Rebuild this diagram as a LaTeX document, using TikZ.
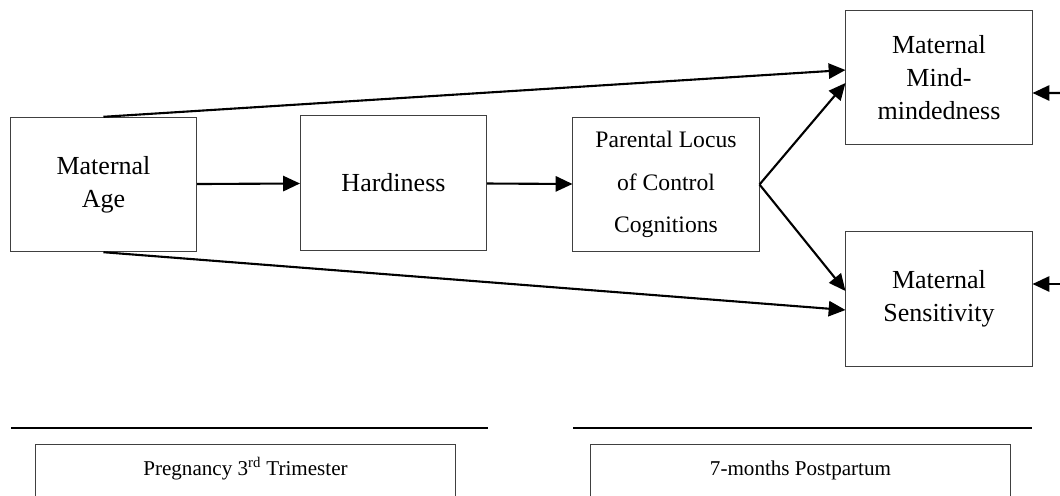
\documentclass[tikz,border=0pt]{standalone}
\usepackage{fontspec}
\setmainfont{Liberation Serif}
\usepackage{tikz}
\usetikzlibrary{arrows.meta, calc, positioning}

\begin{document}
\begin{tikzpicture}[
    x=0.025cm, y=-0.025cm,
    varbox/.style={draw=black!75, line width=0.7pt, minimum width=4.65cm, minimum height=3.36cm, align=center, font=\fontsize{18.5}{23.5}\selectfont},
    plccbox/.style={varbox, font=\fontsize{16.8}{30}\selectfont},
    periodbox/.style={draw=black!75, line width=0.7pt, anchor=north, minimum width=10.5cm, inner ysep=0.42cm, text height=0.35cm, text depth=2cm, font=\fontsize{15}{18}\selectfont},
    link/.style={line width=1.5pt, -{Triangle[length=0.42cm, width=0.38cm]}},
    rule/.style={line width=1.5pt}
]
\clip (0,0) rectangle (1060,495);

\node[varbox] (age) at (103.5,184.5) {Maternal\\Age};
\node[varbox] (hard) at (393.5,183) {Hardiness};
\node[plccbox] (plcc) at (666,184.5) {Parental Locus\\of Control\\Cognitions};
\node[varbox] (mind) at (939,77.5) {Maternal\\Mind-\\mindedness};
\node[varbox] (sens) at (939,299) {Maternal\\Sensitivity};

\coordinate (mindin) at (1080,93);
\coordinate (sensin) at (1080,284);

\draw[link] (age) -- (hard);
\draw[link] (hard) -- (plcc);
\draw[link] (age.north) -- ($(mind.west)+(0,-7.5)$);
\draw[link] (age.south) -- ($(sens.west)+(0,11)$);
\draw[link] (plcc.east) -- ($(mind.west)+(0,5.5)$);
\draw[link] (plcc.east) -- ($(sens.west)+(0,-8)$);
\draw[link] (mindin) -- ($(mind.east)+(0,15.5)$);
\draw[link] (sensin) -- ($(sens.east)+(0,-15)$);

% time points
\coordinate (r1a) at (11,428);
\coordinate (r1b) at (488,428);
\coordinate (r2a) at (573,428);
\coordinate (r2b) at (1032,428);
\draw[rule] (r1a) -- (r1b);
\draw[rule] (r2a) -- (r2b);
\node[periodbox] (preg) at (245.5,444) {Pregnancy 3\textsuperscript{rd} Trimester};
\node[periodbox] (post) at (800.5,444) {7-months Postpartum};
\end{tikzpicture}
\end{document}
